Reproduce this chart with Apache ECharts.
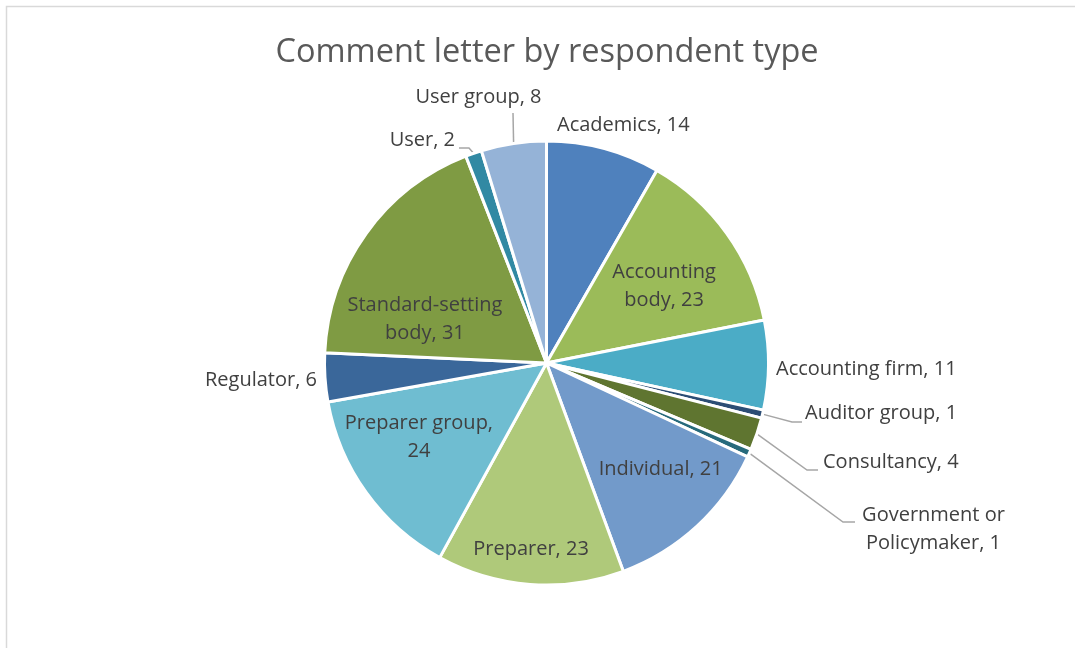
<!DOCTYPE html>
<html>
<head>
<meta charset="utf-8">
<script src="https://cdn.jsdelivr.net/npm/echarts@6/dist/echarts.min.js"></script>
<style>
  html, body { margin: 0; padding: 0; background: #ffffff; }
  #chart { width: 1075px; height: 648px; }
</style>
</head>
<body>
<div id="chart"></div>
<script>
// ---- data ----
const titleText = 'Comment letter by respondent type';
const categories = [
  'Academics', 'Accounting body', 'Accounting firm', 'Auditor group', 'Consultancy',
  'Government or Policymaker', 'Individual', 'Preparer', 'Preparer group', 'Regulator',
  'Standard-setting body', 'User', 'User group'
];
const values = [14, 23, 11, 1, 4, 1, 21, 23, 24, 6, 31, 2, 8];

// ---- styles ----
const colors = [
  '#4F81BD', '#9BBB59', '#4BACC6', '#2C4D75', '#5F7530',
  '#276A7C', '#729ACA', '#AFC97A', '#6FBDD1', '#3A679A',
  '#7F9B43', '#3189A3', '#95B3D7'
];
const FONT = '"Open Sans", Lato, sans-serif';
const CX = 546.5, CY = 363, R = 222;

// where each label's text wraps (word index after which a line break is placed)
const breakAfter = {
  'Accounting body': 1,
  'Standard-setting body': 1,
  'Preparer group': 2,
  'Government or Policymaker': 2
};
// labels drawn inside their slice: small nudges from the default inside spot
const insideNudge = {
  'Accounting body': [25, -10],
  'Standard-setting body': [-29, 23],
  'Individual': [37, 22],
  'Preparer': [-7, 73],
  'Preparer group': [-35, 8]
};
// labels outside: anchor relative to pie centre, optional leader-line elbows
const outsidePlace = {
  'Academics':      { x: 10.5,  y: -238, align: 'left' },
  'Accounting firm':{ x: 229.5, y: 6,    align: 'left' },
  'Auditor group':  { x: 258.5, y: 50,   align: 'left',   line: [[245.5, 59], [255.5, 59]] },
  'Consultancy':    { x: 276.5, y: 99,   align: 'left',   line: [[260.5, 107], [271.5, 107]] },
  'Government or Policymaker': { x: 387, y: 166, align: 'center', line: [[296.5, 159], [308.5, 159]] },
  'Regulator':      { x: -229.5, y: 17,  align: 'right' },
  'User':           { x: -91.5, y: -223, align: 'right',  line: [[-77.5, -215], [-87.5, -215]] },
  'User group':     { x: -68,   y: -266, align: 'center', line: [[-33.5, -250], [-33.5, -250]] }
};

function labelText(name, value) {
  const words = (name + ', ' + value).split(' ');
  const k = breakAfter[name];
  if (k == null) return words.join(' ');
  return words.slice(0, k).join(' ') + '\n' + words.slice(k).join(' ');
}

const seriesData = categories.map((name, i) => {
  const inside = insideNudge[name] != null;
  const place = outsidePlace[name];
  return {
    name: name,
    value: values[i],
    itemStyle: { color: colors[i] },
    label: { position: inside ? 'inside' : 'outside' },
    labelLine: { show: !inside && !!(place && place.line) }
  };
});

const chart = echarts.init(document.getElementById('chart'), null, { renderer: 'canvas' });
chart.setOption({
  animation: false,
  backgroundColor: '#ffffff',
  title: {
    text: titleText,
    left: CX - 4.5,
    top: 31,
    textAlign: 'center',
    textStyle: { fontFamily: FONT, fontSize: 32.5, fontWeight: 'normal', color: '#595959' }
  },
  graphic: [{
    type: 'rect',
    shape: { x: 6.5, y: 6.5, width: 1100, height: 700 },
    style: { fill: 'none', stroke: '#D9D9D9', lineWidth: 1.5 },
    silent: true
  }],
  series: [{
    type: 'pie',
    center: [CX, CY],
    radius: R,
    startAngle: 90,
    clockwise: true,
    avoidLabelOverlap: false,
    data: seriesData,
    itemStyle: { borderColor: '#ffffff', borderWidth: 3 },
    label: {
      show: true,
      fontFamily: FONT,
      fontSize: 20,
      color: '#404040',
      lineHeight: 28,
      overflow: 'none',
      formatter: p => labelText(p.name, p.value)
    },
    labelLine: {
      length: 15,
      length2: 10,
      smooth: false,
      lineStyle: { color: '#A6A6A6', width: 1.5 }
    },
    emphasis: { disabled: true },
    labelLayout: function (params) {
      const name = categories[params.dataIndex];
      if (insideNudge[name]) {
        const n = insideNudge[name];
        return { dx: n[0], dy: n[1], align: 'center', verticalAlign: 'middle' };
      }
      const p = outsidePlace[name];
      if (!p) return {};
      const out = { x: CX + p.x, y: CY + p.y, align: p.align, verticalAlign: 'middle' };
      if (p.line && params.labelLinePoints) {
        const start = params.labelLinePoints[0];
        out.labelLinePoints = [start].concat(p.line.map(q => [CX + q[0], CY + q[1]]));
      }
      return out;
    }
  }]
});
</script>
</body>
</html>
